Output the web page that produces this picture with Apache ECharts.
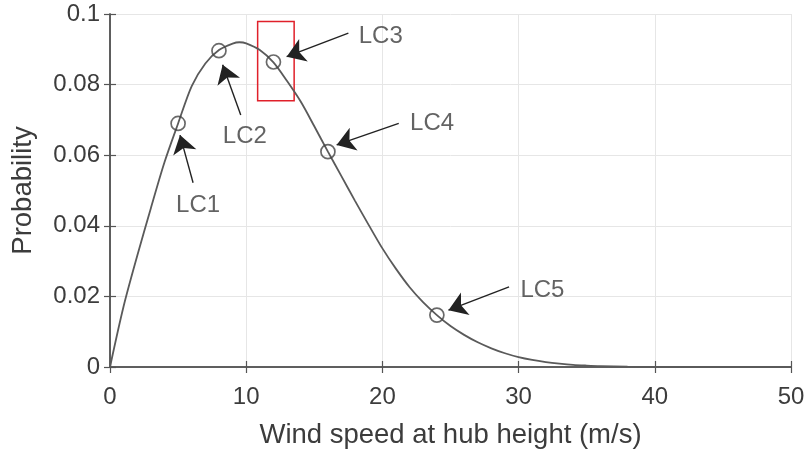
<!DOCTYPE html>
<html>
<head>
<meta charset="utf-8">
<script src="https://cdn.jsdelivr.net/npm/echarts@6/dist/echarts.min.js"></script>
<style>html,body{margin:0;padding:0;background:#fff;}#c{width:806px;height:453px;}</style>
</head>
<body>
<div id="c"></div>
<script>
// Curve
var windSpeed = [0,1,2,3,4,5,6,7,8,9,9.5,10,11,12,13,14,15,16,17,18,19,20,21,22,23,24,25,26,27,28,29,30,31,32,33,34,35,36,38,40,45,50];
var probability = [0,0.0172,0.0315,0.045,0.058,0.069,0.0796,0.086,0.0898,0.0916,0.0920,0.0917,0.0898,0.0863,0.081,0.0752,0.0682,0.061,0.054,0.047,0.0402,0.0336,0.0278,0.0226,0.0183,0.0147,0.0116,0.0091,0.007,0.0053,0.0039,0.0028,0.002,0.0014,0.00095,0.0006,0.0004,0.00025,0.0001,0.00003,0,0];
// Load cases
var lcNames = ['LC1','LC2','LC3','LC4','LC5'];
var lcSpeed = [5,8,12,16,24];
var lcProb = [0.069,0.0896,0.0864,0.061,0.0147];
// Annotation label positions (data coords)
var lcLabelX = [6.47,9.9,19.88,23.65,31.75];
var lcLabelY = [0.0459,0.0652,0.0936,0.069,0.0218];
// Arrow tails and tips (data coords)
var arrowTail = [[6.1,0.0522],[9.6,0.0714],[17.5,0.0946],[21.2,0.0690],[29.3,0.0227]];
var arrowTip = [[5.14,0.0657],[8.27,0.0856],[12.97,0.0879],[16.64,0.0629],[24.85,0.0161]];
// Highlight box
var boxX = [10.84,13.52];
var boxY = [0.0754,0.0979];
var xTicks = [0,10,20,30,40,50];
var yTicks = [0,0.02,0.04,0.06,0.08,0.1];

var FONT = 'Liberation Sans, Arial, Helvetica, sans-serif';
var TXT = '#3c3c3c';
var AX = '#555';

var curve = windSpeed.map(function(x,i){return [x, probability[i]];});
var pts = lcSpeed.map(function(x,i){return [x, lcProb[i]];});
var labels = lcNames.map(function(n,i){return {name:n, value:[lcLabelX[i], lcLabelY[i]]};});
var arrows = arrowTail.map(function(t,i){return {coords:[t, arrowTip[i]]};});

var chart = echarts.init(document.getElementById('c'), null, {renderer:'canvas'});
chart.setOption({
  animation:false,
  backgroundColor:'#fff',
  grid:{left:110,right:15,top:14,bottom:86,containLabel:false,outerBoundsMode:'none'},
  xAxis:[{
    type:'value',min:0,max:50,interval:10,
    name:'Wind speed at hub height (m/s)',nameLocation:'middle',nameGap:54,
    nameTextStyle:{fontFamily:FONT,fontSize:27.5,color:TXT},
    axisLine:{show:true,onZero:false,lineStyle:{color:AX,width:1.5}},
    axisTick:{show:true,inside:true,length:6,lineStyle:{color:AX,width:1.2}},
    axisLabel:{fontFamily:FONT,fontSize:24,color:TXT,margin:18,
      formatter:function(v){var i=xTicks.indexOf(v);return i>=0?String(xTicks[i]):'';}},
    splitLine:{show:true,lineStyle:{color:'#e6e6e6',width:1}}
  },{
    type:'value',min:0,max:50,interval:10,position:'top',
    axisLine:{show:true,lineStyle:{color:AX,width:1.5}},
    axisTick:{show:true,inside:true,length:6,lineStyle:{color:AX,width:1.2}},
    axisLabel:{show:false},splitLine:{show:false}
  }],
  yAxis:[{
    type:'value',min:0,max:0.1,interval:0.02,
    name:'Probability',nameLocation:'middle',nameGap:73,
    nameTextStyle:{fontFamily:FONT,fontSize:27.5,color:TXT},
    axisLine:{show:true,onZero:false,lineStyle:{color:AX,width:1.5}},
    axisTick:{show:true,inside:true,length:6,lineStyle:{color:AX,width:1.2}},
    axisLabel:{fontFamily:FONT,fontSize:24,color:TXT,margin:10,
      formatter:function(v){var r=Math.round(v*100)/100;var i=yTicks.indexOf(r);return i>=0?String(yTicks[i]):String(r);}},
    splitLine:{show:true,lineStyle:{color:'#e6e6e6',width:1}}
  },{
    type:'value',min:0,max:0.1,interval:0.02,position:'right',
    axisLine:{show:true,lineStyle:{color:AX,width:1.5}},
    axisTick:{show:true,inside:true,length:6,lineStyle:{color:AX,width:1.2}},
    axisLabel:{show:false},splitLine:{show:false}
  }],
  series:[{
    type:'line',data:curve,smooth:0.3,showSymbol:false,symbol:'none',
    lineStyle:{color:'#5a5a5a',width:1.8},z:3,
    markArea:{silent:true,itemStyle:{color:'rgba(0,0,0,0)',borderColor:'#e0202a',borderWidth:1.5},
      data:[[{coord:[boxX[0],boxY[1]]},{coord:[boxX[1],boxY[0]]}]]}
  },{
    type:'scatter',data:pts,symbol:'circle',symbolSize:14,
    itemStyle:{color:'rgba(0,0,0,0)',borderColor:'#444',borderWidth:1.7},z:5
  },{
    type:'lines',coordinateSystem:'cartesian2d',data:arrows,
    symbol:['none','arrow'],symbolSize:[0,18],
    lineStyle:{color:'#222',width:1.4,opacity:1},z:6
  },{
    type:'scatter',data:labels,symbolSize:1,itemStyle:{color:'rgba(0,0,0,0)'},
    label:{show:true,position:'inside',formatter:'{b}',fontFamily:FONT,fontSize:24,color:TXT},z:7
  }]
});
</script>
</body>
</html>
